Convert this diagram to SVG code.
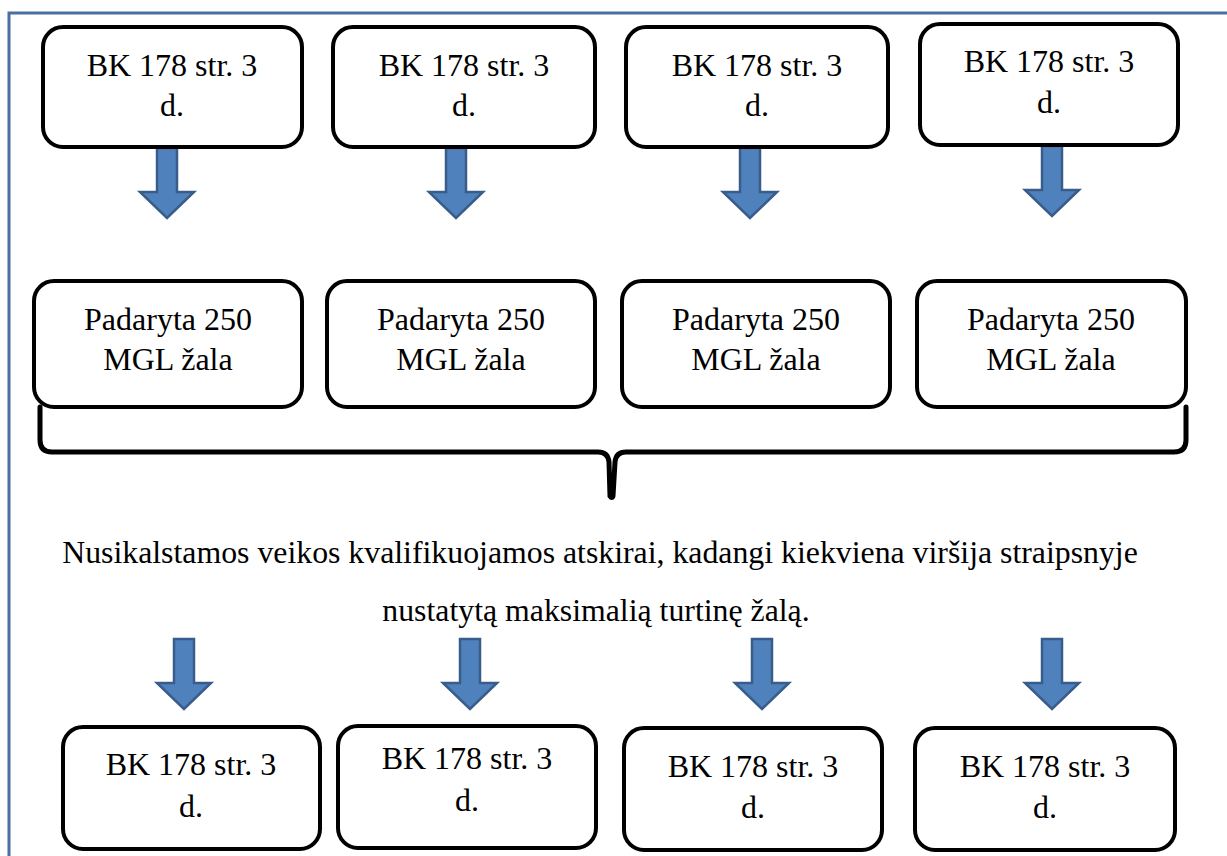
<svg xmlns="http://www.w3.org/2000/svg" width="1227" height="856" viewBox="0 0 1227 856">
<style>
text{font-family:"Liberation Serif","Times New Roman",Tinos,"DejaVu Serif",serif;fill:#000;text-anchor:middle}
.box{fill:#fff;stroke:#000;stroke-width:4}
.t{font-size:32px}
.p{font-size:31.8px}
.arr{fill:#4F81BD;stroke:#385D8A;stroke-width:2.5;stroke-linejoin:miter}
</style>
<defs>
<path id="arrow" class="arr" d="M-10,0 H10 V44 H27 L0,70 L-27,44 H-10 Z"/>
</defs>
<rect x="0" y="0" width="1227" height="856" fill="#fff"/>
<rect x="9" y="13" width="1240" height="870" fill="none" stroke="#4A6FA0" stroke-width="3"/>
<g id="connectors">
<use href="#arrow" x="167" y="148"/>
<use href="#arrow" x="456" y="148"/>
<use href="#arrow" x="750" y="148"/>
<use href="#arrow" x="1052" y="146"/>
<use href="#arrow" x="184" y="639"/>
<use href="#arrow" x="470" y="639"/>
<use href="#arrow" x="762" y="639"/>
<use href="#arrow" x="1052" y="639"/>
<path id="brace" d="M40,407 V440 Q40,452 52,452 H598 Q608,452 609,462 L610,496 Q612,499 613,496 L615,462 Q616,452 626,452 H1174 Q1186,452 1186,440 V407" fill="none" stroke="#000" stroke-width="5" stroke-linecap="round"/>
</g>
<g id="top1"><rect class="box" x="43" y="27" width="259" height="120" rx="20"/><text class="t" x="172" y="76">BK 178 str. 3</text><text class="t" x="172" y="116">d.</text></g>
<g id="top2"><rect class="box" x="333" y="27" width="262" height="120" rx="20"/><text class="t" x="464" y="76">BK 178 str. 3</text><text class="t" x="464" y="116">d.</text></g>
<g id="top3"><rect class="box" x="626" y="27" width="262" height="120" rx="20"/><text class="t" x="757" y="76">BK 178 str. 3</text><text class="t" x="757" y="116">d.</text></g>
<g id="top4"><rect class="box" x="920" y="24" width="258" height="121" rx="20"/><text class="t" x="1049" y="72">BK 178 str. 3</text><text class="t" x="1049" y="113">d.</text></g>
<g id="mid1"><rect class="box" x="34" y="281" width="268" height="126" rx="20"/><text class="t" x="168" y="330">Padaryta 250</text><text class="t" x="168" y="370">MGL žala</text></g>
<g id="mid2"><rect class="box" x="327" y="281" width="268" height="126" rx="20"/><text class="t" x="461" y="330">Padaryta 250</text><text class="t" x="461" y="370">MGL žala</text></g>
<g id="mid3"><rect class="box" x="622" y="281" width="268" height="126" rx="20"/><text class="t" x="756" y="330">Padaryta 250</text><text class="t" x="756" y="370">MGL žala</text></g>
<g id="mid4"><rect class="box" x="917" y="281" width="269" height="126" rx="20"/><text class="t" x="1051" y="330">Padaryta 250</text><text class="t" x="1051" y="370">MGL žala</text></g>
<g id="note"><text class="p" x="600" y="563">Nusikalstamos veikos kvalifikuojamos atskirai, kadangi kiekviena viršija straipsnyje</text><text class="p" x="596" y="621">nustatytą maksimalią turtinę žalą.</text></g>
<g id="bot1"><rect class="box" x="63" y="727" width="257" height="122" rx="20"/><text class="t" x="191" y="775">BK 178 str. 3</text><text class="t" x="191" y="817">d.</text></g>
<g id="bot2"><rect class="box" x="338" y="726" width="258" height="122" rx="20"/><text class="t" x="467" y="769">BK 178 str. 3</text><text class="t" x="467" y="811">d.</text></g>
<g id="bot3"><rect class="box" x="624" y="728" width="258" height="122" rx="20"/><text class="t" x="753" y="777">BK 178 str. 3</text><text class="t" x="753" y="818">d.</text></g>
<g id="bot4"><rect class="box" x="915" y="728" width="260" height="122" rx="20"/><text class="t" x="1045" y="777">BK 178 str. 3</text><text class="t" x="1045" y="818">d.</text></g>
</svg>
